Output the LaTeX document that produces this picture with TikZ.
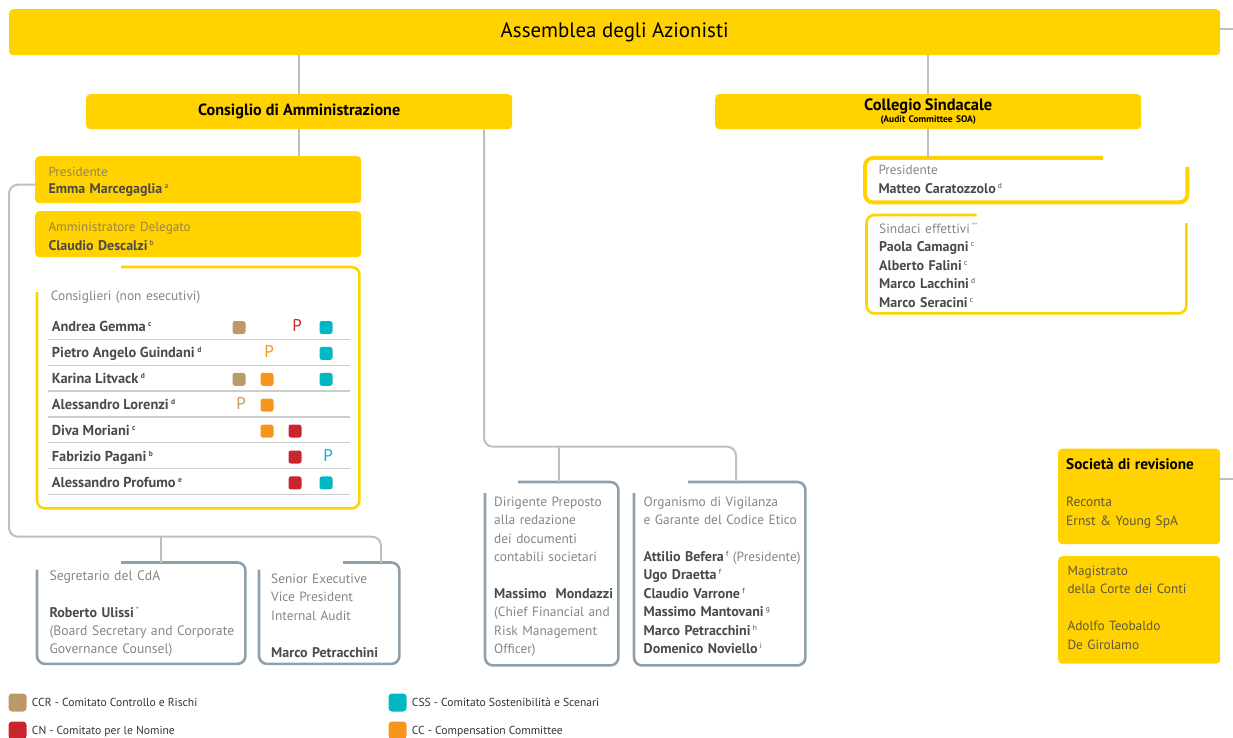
\documentclass[tikz,border=0pt]{standalone}
\usepackage{fontspec}
\setmainfont{PT Sans}
\definecolor{giallo}{HTML}{FFD200}
\definecolor{grigio}{HTML}{BFBFBF}
\definecolor{bordo}{HTML}{8DA0AC}
\definecolor{tlight}{HTML}{858585}
\definecolor{ngray}{HTML}{4A4A4A}
\definecolor{ylab}{HTML}{958651}
\definecolor{ytxt}{HTML}{5E5940}
\definecolor{riga}{HTML}{CDCDCD}
\definecolor{ccr}{HTML}{BC9968}
\definecolor{cc}{HTML}{F7941E}
\definecolor{cn}{HTML}{C9252C}
\definecolor{css}{HTML}{00B7C4}
\newcommand{\nome}[1]{{\fontsize{14}{14}\selectfont\bfseries\color{ngray}#1}}
\newcommand{\nota}[1]{\,\raisebox{5pt}{\fontsize{7.5}{8}\selectfont\color{ngray}#1}}
\newcommand{\alza}{\rule{0pt}{11pt}}
\begin{document}
\begin{tikzpicture}[x=1pt, y=-1pt, line join=round,
	ybox/.style={fill=giallo, rounded corners=4pt, inner sep=0pt, anchor=north west},
	cella/.style={inner sep=0pt, anchor=north west},
	conn/.style={draw=grigio, line width=2pt, rounded corners=9pt},
	gbord/.style={draw=bordo, line width=2.6pt, rounded corners=8pt},
	ybord/.style={draw=giallo, line width=2.6pt, rounded corners=8pt},
	txt/.style={anchor=north west, inner sep=0pt, text width=300pt, align=left,
		font=\fontsize{13.4}{18.4}\selectfont, text=tlight},
	nomeT/.style={anchor=base west, inner sep=0pt, font=\fontsize{14.4}{15}\selectfont\bfseries, text=ngray},
	sq/.style={rounded corners=2.5pt, minimum size=13pt, inner sep=0pt},
	pm/.style={anchor=base, inner sep=0pt, font=\fontsize{17}{17}\selectfont},
	lq/.style={rounded corners=3.5pt, minimum size=18pt, inner sep=0pt},
	leg/.style={anchor=base west, inner sep=0pt, font=\fontsize{11.6}{12}\selectfont, text=black!80}]
	\useasboundingbox (0,0) rectangle (1233,738);
	\path
	(1233,29.3) coordinate (assR)
	(1233,479.3) coordinate (revR)
	(484,0) coordinate (xcda)
	(559,0) coordinate (xdir)
	(736,0) coordinate (xodv)
	(9,0) coordinate (xleft)
	(161,0) coordinate (xseg)
	(381,0) coordinate (xsevp)
	(0,446.7) coordinate (ybus)
	(0,536.7) coordinate (ybus2)
	;
	% boxes
	\node[ybox, minimum width=1211pt, minimum height=46pt, font=\fontsize{20.9}{21}\selectfont]
		(ass) at (9,9) {Assemblea degli Azionisti};
	\node[ybox, minimum width=426pt, minimum height=35pt, font=\fontsize{16.2}{16}\selectfont\bfseries]
		(cda) at (86,94) {Consiglio di Amministrazione};
	\node[ybox, minimum width=426pt, minimum height=35pt, text width=426pt, align=center]
		(col) at (715,94) {\fontsize{16.4}{12.5}\selectfont\bfseries Collegio Sindacale\\
		\fontsize{9.5}{12.5}\selectfont (Audit Committee SOA)};
	\node[ybox, minimum width=326pt, minimum height=47pt] (pres) at (35,156) {};
	\node[ybox, minimum width=326pt, minimum height=46pt] (ad) at (35,211) {};
	\node[cella, minimum width=322pt, minimum height=241pt] (cons) at (37,267) {};
	\node[cella, minimum width=322pt, minimum height=44pt] (cpres) at (865,158) {};
	\node[cella, minimum width=319.5pt, minimum height=98pt] (sind) at (866.5,215) {};
	\node[cella, minimum width=133pt, minimum height=183pt] (dir) at (485,482) {};
	\node[cella, minimum width=171pt, minimum height=183pt] (odv) at (634,482) {};
	\node[cella, minimum width=208pt, minimum height=101pt] (seg) at (37,562.5) {};
	\node[cella, minimum width=140pt, minimum height=101pt] (sevp) at (259,562.5) {};
	\node[ybox, minimum width=162pt, minimum height=95.5pt] (rev) at (1058,448.5) {};
	\node[ybox, minimum width=162pt, minimum height=107.5pt] (mag) at (1058,556) {};
	% open borders
	\draw[ybord] ([xshift=84pt]cons.north west) -- (cons.north east) -- (cons.south east)
		-- (cons.south west) -- ([yshift=-25pt]cons.north west);
	\draw[ybord, line width=4pt] ([xshift=238pt]cpres.north west) -- (cpres.north west)
		-- (cpres.south west) -- (cpres.south east) -- ([yshift=-9pt]cpres.north east);
	\draw[ybord] ([xshift=110pt]sind.north west) -- (sind.north west) -- (sind.south west)
		-- (sind.south east) -- ([yshift=-8pt]sind.north east);
	\draw[gbord] ([xshift=33pt]dir.north west) -- (dir.north east) -- (dir.south east)
		-- (dir.south west) -- ([yshift=-11pt]dir.north west);
	\draw[gbord] ([xshift=54pt]odv.north west) -- (odv.north east) -- (odv.south east)
		-- (odv.south west) -- ([yshift=-11pt]odv.north west);
	\draw[gbord] ([xshift=84pt]seg.north west) -- (seg.north east) -- (seg.south east)
		-- (seg.south west) -- ([yshift=-7pt]seg.north west);
	\draw[gbord] ([xshift=84pt]sevp.north west) -- (sevp.north east) -- (sevp.south east)
		-- (sevp.south west) -- ([yshift=-7pt]sevp.north west);
	% connectors
	\draw[conn] (ass.south -| cda.north) -- (cda.north);
	\draw[conn] (ass.south -| col.north) -- (col.north);
	\draw[conn] (ass.east |- assR) -- (assR);
	\draw[conn] (rev.east |- revR) -- (revR);
	\draw[conn] (cda.south) -- (cda.south |- pres.north);
	\draw[conn] (col.south) -- (col.south |- cpres.north);
	\draw[conn] (cda.south -| xcda) |- (xodv |- ybus) -- (odv.north -| xodv);
	\draw[conn] (xdir |- ybus) -- (dir.north -| xdir);
	\draw[conn] ([yshift=-5pt]pres.west) -| (xleft |- ybus2) -| (sevp.north -| xsevp);
	\draw[conn] (xseg |- ybus2) -- (seg.north -| xseg);
	% texts
	\node[txt, font=\fontsize{13.2}{17}\selectfont, text=ylab] (presT) at (48.3,165)
		{\alza Presidente\\ \nome{Emma Marcegaglia}\nota{a}};
	\node[txt, font=\fontsize{13.2}{18.3}\selectfont, text=ylab] (adT) at (48.3,220.7)
		{\alza Amministratore Delegato\\ \nome{Claudio Descalzi}\nota{b}};
	\node[txt] (consT) at (50.7,289.5) {\alza Consiglieri (non esecutivi)};
	\foreach \nm/\ap/\mks [count=\i from 0] in {
		Andrea Gemma/c/{ccr/239/s,cn/295/P,css/326/s},
		Pietro Angelo Guindani/d/{cc/267/P,css/326/s},
		Karina Litvack/d/{ccr/239/s,cc/267/s,css/326/s},
		Alessandro Lorenzi/d/{ccr/239/P,cc/267/s},
		Diva Moriani/c/{cc/267/s,cn/295/s},
		Fabrizio Pagani/b/{cn/295/s,css/326/P},
		Alessandro Profumo/e/{cn/295/s,css/326/s}}{
		\node[nomeT] (cons-\i) at (51.7,331.7+25.9*\i) {\nm\nota{\ap}};
		\draw[riga, line width=1.2pt] (48.3,339.2+25.9*\i) -- (350,339.2+25.9*\i);
		\foreach \cl/\xx/\tp in \mks {
			\if\tp s
				\node[sq, fill=\cl] (m-\i-\cl) at (\xx,327.5+25.9*\i) {};
			\else
				\node[pm, text=\cl] (m-\i-\cl) at (\xx+2,331.7+25.9*\i) {P};
			\fi
		}
	}
	\node[txt, font=\fontsize{13.2}{19.3}\selectfont] (cpresT) at (878.3,163)
		{\alza Presidente\\ \nome{Matteo Caratozzolo}\nota{d}};
	\node[txt] (sindT) at (879,222.3)
		{\alza Sindaci effettivi\,\raisebox{5pt}{\fontsize{7.5}{8}\selectfont **}\\
		\nome{Paola Camagni}\nota{c}\\
		\nome{Alberto Falini}\nota{c}\\ \nome{Marco Lacchini}\nota{d}\\
		\nome{Marco Seracini}\nota{c}};
	\node[txt] (dirT) at (494,495)
		{\alza Dirigente Preposto\\ alla redazione\\ dei documenti\\ contabili societari\\[18.4pt]
		\nome{Massimo\ \ Mondazzi}\\ (Chief Financial and\\ Risk Management\\ Officer)};
	\node[txt] (odvT) at (643.5,495)
		{\alza Organismo di Vigilanza\\ e Garante del Codice Etico\\[18.4pt]
		\nome{Attilio Befera}\nota{f} (Presidente)\\ \nome{Ugo Draetta}\nota{f}\\
		\nome{Claudio Varrone}\nota{f}\\ \nome{Massimo Mantovani}\nota{g}\\
		\nome{Marco Petracchini}\nota{h}\\ \nome{Domenico Noviello}\nota{i}};
	\node[txt, font=\fontsize{13.7}{18.4}\selectfont] (segT) at (49.3,569)
		{\alza Segretario del CdA\\[18.4pt] \nome{Roberto Ulissi}\nota{*}\\
		(Board Secretary and Corporate\\ Governance Counsel)};
	\node[txt] (sevpT) at (271,572.3)
		{\alza Senior Executive\\ Vice President\\ Internal Audit\\[18.4pt] \nome{Marco Petracchini}};
	\node[txt, font=\fontsize{13.5}{18.7}\selectfont, text=ytxt] (revT) at (1066,458.3)
		{\alza{\fontsize{15.2}{18.7}\selectfont\bfseries\color{black}Società di revisione}\\[18.7pt]
		Reconta\\ Ernst \& Young SpA};
	\node[txt, font=\fontsize{13.3}{18.5}\selectfont, text=ytxt] (magT) at (1067.3,564)
		{\alza Magistrato\\ della Corte dei Conti\\[18.5pt] Adolfo Teobaldo\\ De Girolamo};
	% legend
	\foreach \cl/\xx/\yy/\lab in {ccr/17.5/702.5/CCR - Comitato Controllo e Rischi,
		cn/17.5/730.5/CN - Comitato per le Nomine,
		css/397.5/702.5/CSS - Comitato Sostenibilità e Scenari,
		cc/397.5/730.5/CC - Compensation Committee}{
		\node[lq, fill=\cl] (lg-\cl) at (\xx,\yy) {};
		\node[leg] (lt-\cl) at (\xx+14.2,\yy+4.2) {\lab};
	}
\end{tikzpicture}
\end{document}
